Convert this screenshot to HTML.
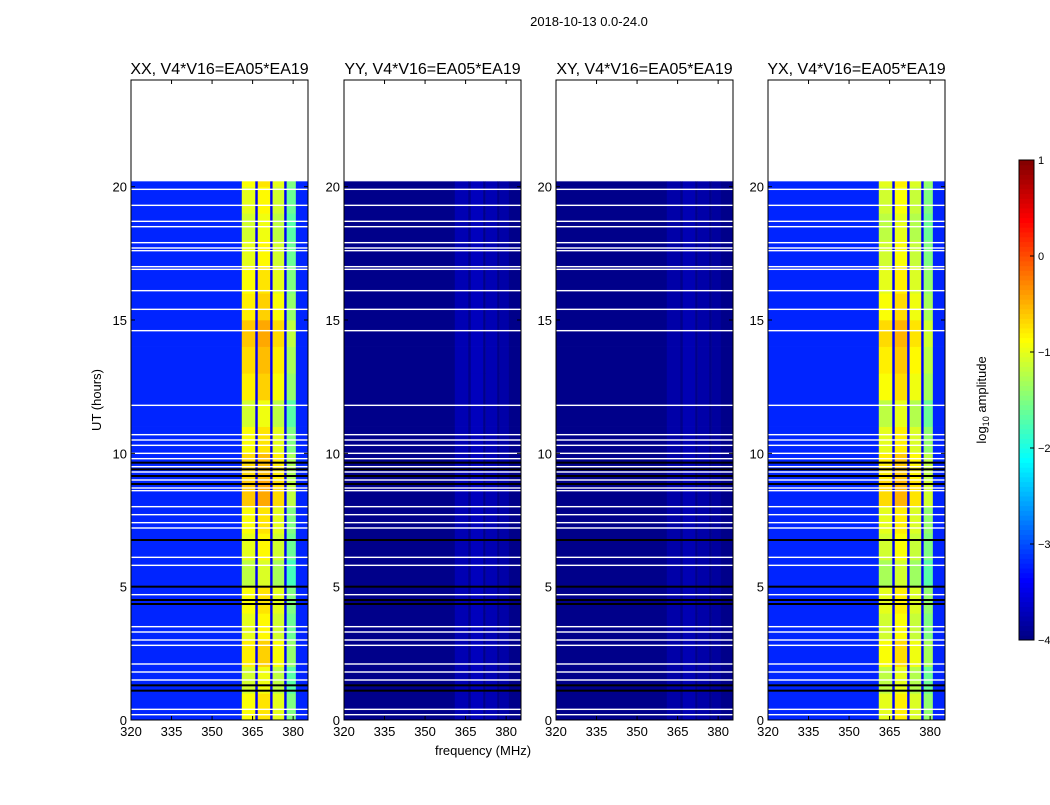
<!DOCTYPE html>
<html><head><meta charset="utf-8"><style>
body{margin:0;background:#fff;font-family:"Liberation Sans",sans-serif}
svg text{font-family:"Liberation Sans","DejaVu Sans",sans-serif}
</style></head><body>
<svg id="fig" width="1050" height="800" xmlns="http://www.w3.org/2000/svg">
<rect width="1050" height="800" fill="#fff"/>
<text x="589" y="26" font-size="13" text-anchor="middle">2018-10-13 0.0-24.0</text>
<text x="483" y="755" font-size="13" text-anchor="middle">frequency (MHz)</text>
<text transform="translate(101,400) rotate(-90)" font-size="13" text-anchor="middle">UT (hours)</text>
<text transform="translate(986,400) rotate(-90)" font-size="13" text-anchor="middle">log<tspan font-size="9" dy="3">10</tspan><tspan dy="-3"> amplitude</tspan></text>
</svg>
<script>
const panelNames=["XX, V4*V16=EA05*EA19","YY, V4*V16=EA05*EA19","XY, V4*V16=EA05*EA19","YX, V4*V16=EA05*EA19"];
const panelLeft=[131,344,556,768];
const freqEdges=[320,361,366,366.9,371.5,372.4,376.7,377.6,381,385.5];
const levelXX=[-3.2,-1.0,-3.4,-0.85,-3.4,-1.1,-3.4,-1.6,-3.2];
const levelYY=[-3.95,-3.75,-3.95,-3.7,-3.95,-3.75,-3.95,-3.8,-3.95];
const levelXY=[-3.95,-3.8,-3.95,-3.75,-3.95,-3.8,-3.95,-3.85,-3.95];
const levelYX=[-3.2,-1.1,-3.4,-0.9,-3.4,-1.15,-3.4,-1.5,-3.2];
const panelLevels=[levelXX,levelYY,levelXY,levelYX];
const hourMod=[0.1,-0.1,0.2,0.0,0.1,-0.2,0.0,0.1,0.4,0.3,0.1,-0.1,0.2,0.3,0.4,0.2,0.1,0.0,-0.1,0.0,0.1];
const whiteRows=[19.9,19.3,18.7,18.5,17.9,17.7,17.6,17.0,16.9,16.1,15.4,14.6,11.8,10.7,10.5,10.3,10.0,9.8,9.5,9.3,9.0,8.7,8.6,8.0,7.7,7.4,7.2,6.1,5.8,4.7,3.5,3.3,3.0,2.8,2.1,1.8,1.5,0.4,0.2];
const blackRows=[9.65,9.4,9.15,8.85,6.75,5.0,4.5,4.35,1.3,1.1];
const xTicks=[320,335,350,365,380];
const yTicks=[0,5,10,15,20];
const cbTicks=[1,0,-1,-2,-3,-4];
const svg=document.getElementById('fig');const NS="http://www.w3.org/2000/svg";
const W=177,TOP=80,BOT=720,FMIN=320,FMAX=385.5,TMAX=24,DATAEND=20.2;
function yS(h){return BOT-(h/TMAX)*(BOT-TOP);}
function jet(v){let t=Math.max(0,Math.min(1,(v+4)/5));const c=x=>Math.round(255*Math.max(0,Math.min(1,1.5-Math.abs(x))));return `rgb(${c(4*t-3)},${c(4*t-2)},${c(4*t-1)})`;}
function mk(tag,attrs,parent){const e=document.createElementNS(NS,tag);for(const k in attrs)e.setAttribute(k,attrs[k]);(parent||svg).appendChild(e);return e;}
panelLevels.forEach((lv,p)=>{
  const L=panelLeft[p];const xS=f=>L+(f-FMIN)/(FMAX-FMIN)*W;
  const g=mk('g',{});
  
  
  for(let h=0;h<hourMod.length;h++){
    const h0=h,h1=Math.min(h+1,DATAEND);if(h0>=DATAEND)break;
    for(let i=0;i<lv.length;i++){
      const bright=lv[i]>-2.5;
      const v=lv[i]+(bright&&(p==0||p==3)?hourMod[h]:0);
      const r=mk('rect',{x:xS(freqEdges[i]),y:yS(h1),width:xS(freqEdges[i+1])-xS(freqEdges[i])+0.3,height:yS(h0)-yS(h1)+0.3,fill:jet(v)},g);
      
      
    }
  }
  whiteRows.forEach(t=>{const r=mk('rect',{x:L,y:yS(t)-0.7,width:W,height:1.4,fill:'#fff'},g);
    
    });
  blackRows.forEach(t=>{const r=mk('rect',{x:L,y:yS(t)-1,width:W,height:2,fill:'#000'},g);
    
    });
  const fr=mk('rect',{x:L,y:TOP,width:W,height:BOT-TOP,fill:'none',stroke:'#000','stroke-width':1},g);
  
  
  const tt=mk('text',{x:L+W/2,y:74,'font-size':16,'text-anchor':'middle'},g);tt.textContent=panelNames[p];
  
  
  xTicks.forEach(f=>{const x=xS(f);mk('line',{x1:x,x2:x,y1:BOT,y2:BOT-4,stroke:'#000'},g);mk('line',{x1:x,x2:x,y1:TOP,y2:TOP+4,stroke:'#000'},g);
    const t=mk('text',{x:x,y:BOT+16,'font-size':13,'text-anchor':'middle'},g);t.textContent=f;
    
    });
  yTicks.forEach(h=>{const y=yS(h);mk('line',{x1:L,x2:L+4,y1:y,y2:y,stroke:'#000'},g);mk('line',{x1:L+W,x2:L+W-4,y1:y,y2:y,stroke:'#000'},g);
    const t=mk('text',{x:L-4,y:y+5,'font-size':13,'text-anchor':'end'},g);t.textContent=h;
    
    });
});
const cb=mk('g',{});


const CX=1019,CW=15,CT=160,CB=640;
for(let i=0;i<100;i++){const v=-4+5*(i+0.5)/100;const y0=CB-(i+1)*(CB-CT)/100;mk('rect',{x:CX,y:y0,width:CW,height:(CB-CT)/100+0.5,fill:jet(v)},cb);}
mk('rect',{x:CX,y:CT,width:CW,height:CB-CT,fill:'none',stroke:'#000'},cb);
cbTicks.forEach(v=>{const y=CB-(v+4)/5*(CB-CT);mk('line',{x1:CX+CW-4,x2:CX+CW,y1:y,y2:y,stroke:'#000'},cb);
  const t=mk('text',{x:CX+CW+4,y:y+4,'font-size':11},cb);t.textContent=v<0?'\u2212'+(-v):v;
  
  });
</script>
</body></html>
